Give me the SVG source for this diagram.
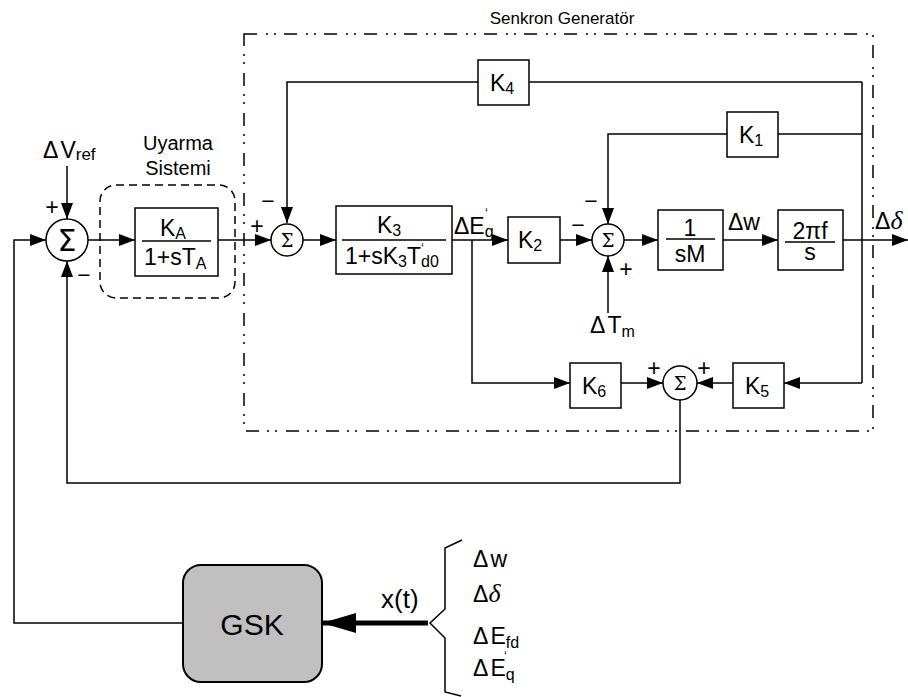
<svg xmlns="http://www.w3.org/2000/svg" width="908" height="697" viewBox="0 0 908 697">
<style>
text{font-family:"Liberation Sans",Arial,sans-serif;fill:#000}
.t{font-size:23px}
.s{font-size:16px}
.p{font-size:13px}
.blk{fill:#fff;stroke:#000;stroke-width:1.5}
.sum{fill:#fff;stroke:#000;stroke-width:1.5}
.ln{fill:none;stroke:#000;stroke-width:1.5}
.fr{stroke:#000;stroke-width:1.5}
.dd{fill:none;stroke:#000;stroke-width:1.5;stroke-dasharray:13 9 2 6 2 8}
.da{fill:none;stroke:#000;stroke-width:1.5;stroke-dasharray:8 5}
.sg{font-size:23px;text-anchor:middle}
.sm{font-size:18px;text-anchor:middle;font-family:"DejaVu Serif",serif}
.d{font-family:"Liberation Serif",serif;font-style:italic;font-size:26px}
</style>
<defs>
<marker id="ah" markerWidth="16" markerHeight="12" refX="16" refY="6" orient="auto" markerUnits="userSpaceOnUse">
<path d="M0,0 L16,6 L0,12 Z" fill="#000"/>
</marker>
<marker id="ahb" markerWidth="34" markerHeight="20" refX="34" refY="10" orient="auto" markerUnits="userSpaceOnUse">
<path d="M0,0 L34,10 L0,20 Z" fill="#000"/>
</marker>
</defs>
<rect width="908" height="697" fill="#fff"/>

<g id="senkron-generator">
<rect x="244" y="34" width="629" height="397" class="dd"/>
<text x="562" y="24" text-anchor="middle" style="font-size:17px">Senkron Generatör</text>
</g>
<g id="uyarma-sistemi">
<rect x="100" y="185" width="135" height="113" rx="16" class="da"/>
<text x="178" y="150" text-anchor="middle" style="font-size:20px">Uyarma</text>
<text x="178" y="175" text-anchor="middle" style="font-size:20px">Sistemi</text>
</g>

<g id="connectors">
<line x1="67" y1="166" x2="67" y2="219" class="ln" marker-end="url(#ah)"/>
<polyline points="183,623 14,623 14,240 46,240" class="ln" marker-end="url(#ah)"/>
<polyline points="680,400 680,483 67,483 67,261" class="ln" marker-end="url(#ah)"/>
<line x1="88" y1="240" x2="135" y2="240" class="ln" marker-end="url(#ah)"/>
<line x1="218" y1="240" x2="271" y2="240" class="ln" marker-end="url(#ah)"/>
<line x1="303" y1="240" x2="336" y2="240" class="ln" marker-end="url(#ah)"/>
<line x1="452" y1="240" x2="508" y2="240" class="ln" marker-end="url(#ah)"/>
<line x1="560" y1="240" x2="592" y2="240" class="ln" marker-end="url(#ah)"/>
<line x1="624" y1="240" x2="658" y2="240" class="ln" marker-end="url(#ah)"/>
<line x1="723" y1="240" x2="778" y2="240" class="ln" marker-end="url(#ah)"/>
<line x1="843" y1="240" x2="908" y2="240" class="ln" marker-end="url(#ah)"/>
<line x1="862" y1="82" x2="862" y2="383" class="ln"/>
<polyline points="862,383 784,383" class="ln" marker-end="url(#ah)"/>
<line x1="862" y1="82" x2="529" y2="82" class="ln"/>
<polyline points="478,82 287,82 287,223" class="ln" marker-end="url(#ah)"/>
<line x1="862" y1="134" x2="778" y2="134" class="ln"/>
<polyline points="727,134 608,134 608,224" class="ln" marker-end="url(#ah)"/>
<line x1="608" y1="313" x2="608" y2="256" class="ln" marker-end="url(#ah)"/>
<line x1="733" y1="383" x2="697" y2="383" class="ln" marker-end="url(#ah)"/>
<polyline points="472,240 472,383 570,383" class="ln" marker-end="url(#ah)"/>
<line x1="621" y1="383" x2="663" y2="383" class="ln" marker-end="url(#ah)"/>
<line x1="428" y1="623" x2="322" y2="623" style="stroke:#000;stroke-width:5" marker-end="url(#ahb)"/>
<polyline points="462,540 445,548 445,609 430,623 445,638 445,692 461,696" class="ln"/>
</g>

<g id="sum1">
<circle cx="67" cy="240" r="21" class="sum"/>
<text x="67" y="251" text-anchor="middle" style="font-size:30px;font-family:'DejaVu Sans',sans-serif">Σ</text>
<text x="52" y="215" class="sg">+</text>
<text x="84" y="283" class="sg">−</text>
<text x="43" y="158" class="t">Δ<tspan dx="2">V</tspan><tspan style="font-size:17px" dy="2">ref</tspan></text>
</g>

<g id="ka">
<rect x="135" y="208" width="83" height="68" class="blk"/>
<line x1="142" y1="241" x2="211" y2="241" class="fr"/>
<text x="160" y="236" class="t">K<tspan class="s" dy="3">A</tspan></text>
<text x="144" y="265" class="t">1+sT<tspan class="s" dy="4">A</tspan></text>
</g>

<g id="sum2">
<circle cx="287" cy="240" r="16" class="sum"/>
<text x="287" y="247" class="sm">Σ</text>
<text x="268" y="209" class="sg">−</text>
<text x="257" y="234" class="sg">+</text>
</g>

<g id="k3">
<rect x="336" y="206" width="116" height="68" class="blk"/>
<line x1="342" y1="240" x2="446" y2="240" class="fr"/>
<text x="377" y="233" class="t">K<tspan class="s" dy="3">3</tspan></text>
<text x="345" y="264" class="t">1+sK<tspan class="s" dy="3">3</tspan><tspan dy="-3">T</tspan><tspan class="s" dy="3">d0</tspan></text>
<text x="421" y="252" class="p">‘</text>
</g>
<text x="454" y="234" class="t">ΔE<tspan class="s" dy="3">q</tspan></text>
<text x="485" y="217" class="p">‘</text>

<g id="k2">
<rect x="508" y="217" width="52" height="46" class="blk"/>
<text x="518" y="248" class="t">K<tspan class="s" dy="3">2</tspan></text>
</g>

<g id="sum4">
<circle cx="608" cy="240" r="16" class="sum"/>
<text x="608" y="247" class="sm">Σ</text>
<text x="591" y="209" class="sg">−</text>
<text x="578" y="233" class="sg">−</text>
<text x="626" y="277" class="sg">+</text>
<text x="590" y="333" class="t">Δ<tspan dx="2">T</tspan><tspan class="s" dy="4">m</tspan></text>
</g>

<g id="k1">
<rect x="727" y="112" width="51" height="45" class="blk"/>
<text x="739" y="143" class="t">K<tspan class="s" dy="3">1</tspan></text>
</g>

<g id="k4">
<rect x="478" y="60" width="51" height="45" class="blk"/>
<text x="490" y="91" class="t">K<tspan class="s" dy="3">4</tspan></text>
</g>

<g id="sm">
<rect x="658" y="210" width="65" height="60" class="blk"/>
<line x1="666" y1="239" x2="715" y2="239" class="fr"/>
<text x="690" y="236" text-anchor="middle" class="t">1</text>
<text x="690" y="262" text-anchor="middle" class="t">sM</text>
</g>
<text x="728" y="230" class="t">Δw</text>

<g id="integ">
<rect x="778" y="210" width="65" height="60" class="blk"/>
<line x1="785" y1="242" x2="835" y2="242" class="fr"/>
<text x="810" y="239" text-anchor="middle" class="t">2πf</text>
<text x="810" y="260" text-anchor="middle" class="t">s</text>
</g>
<text x="875" y="229" class="t">Δ<tspan class="d">δ</tspan></text>

<g id="k6">
<rect x="570" y="363" width="51" height="45" class="blk"/>
<text x="582" y="394" class="t">K<tspan class="s" dy="3">6</tspan></text>
</g>

<g id="k5">
<rect x="733" y="363" width="51" height="45" class="blk"/>
<text x="745" y="394" class="t">K<tspan class="s" dy="3">5</tspan></text>
</g>

<g id="sum3">
<circle cx="680" cy="383" r="17" class="sum"/>
<text x="680" y="390" class="sm">Σ</text>
<text x="654" y="376" class="sg">+</text>
<text x="704" y="376" class="sg">+</text>
</g>

<g id="gsk">
<rect x="183" y="565" width="139" height="117" rx="18" style="fill:#c0c0c0;stroke:#000;stroke-width:2"/>
<text x="252" y="635" text-anchor="middle" style="font-size:30px">GSK</text>
</g>
<text x="381" y="608" style="font-size:26px">x(t)</text>

<g id="states">
<text x="473" y="567" class="t">Δ<tspan dx="2">w</tspan></text>
<text x="473" y="602" class="t">Δ<tspan class="d">δ</tspan></text>
<text x="473" y="644" class="t">Δ<tspan dx="2">E</tspan><tspan class="s" dy="4">fd</tspan></text>
<text x="473" y="676" class="t">Δ<tspan dx="2">E</tspan><tspan class="s" dy="4">q</tspan></text>
<text x="504" y="660" class="p">‘</text>
</g>
</svg>
